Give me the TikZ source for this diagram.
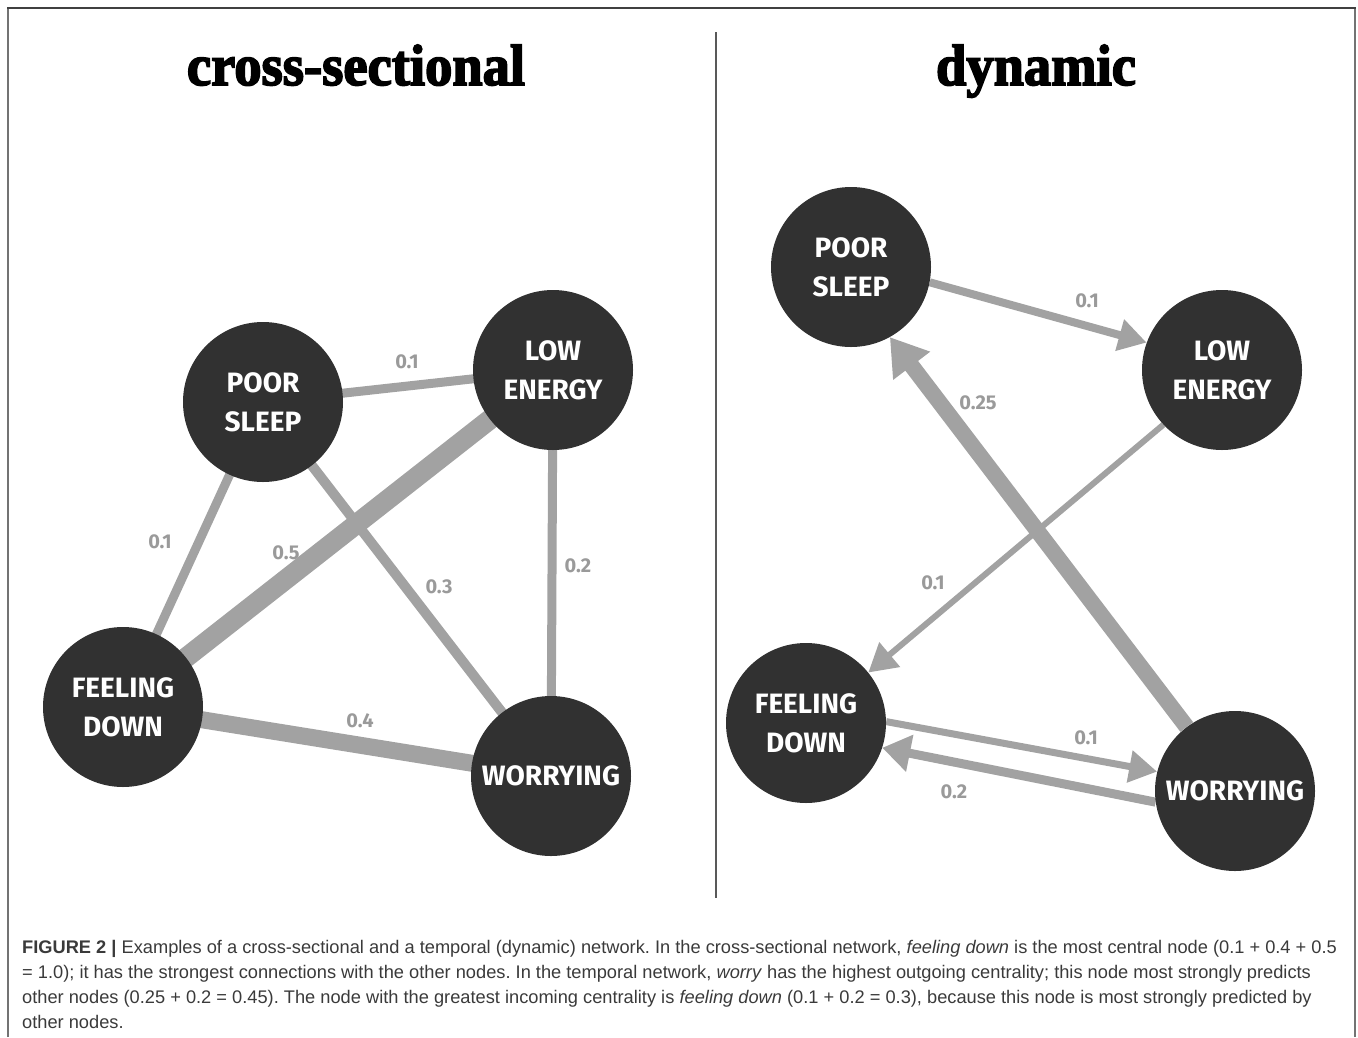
\documentclass[tikz,border=0pt]{standalone}
\usepackage{fontspec}
\usepackage{graphicx}
\setmainfont{Liberation Sans}
\newfontfamily\nodefont{Fira Sans}
\newfontfamily\titlefont[FakeBold=3]{Liberation Serif}
\usetikzlibrary{arrows.meta,backgrounds}
\definecolor{nodegray}{HTML}{313131}
\definecolor{edgegray}{HTML}{A2A2A2}
\definecolor{labelgray}{HTML}{9A9A9A}
\definecolor{captext}{HTML}{3A3A3A}
\tikzset{
  sym/.style={circle, fill=nodegray, minimum size=160pt, inner sep=0pt, text=white,
    font=\nodefont\bfseries\fontsize{28}{39}\selectfont, align=center},
  edge/.style={draw=edgegray, line cap=butt},
  wlab/.style={text=labelgray, font=\nodefont\bfseries\fontsize{20}{20}\selectfont, inner sep=0pt},
  arr/.style={-{Triangle[length=28pt,width=31pt]}},
  bigarr/.style={-{Triangle[length=36pt,width=44pt]}},
  titletext/.style={anchor=base, inner sep=0pt, font=\titlefont\bfseries\fontsize{58}{58}\selectfont},
  captionline/.style={anchor=base west, inner sep=0pt, text=captext, font=\fontsize{18.25}{22}\selectfont\frenchspacing},
}
\begin{document}
\begin{tikzpicture}[x=1pt, y=-1pt]
\useasboundingbox (0,0) rectangle (1358,1037);
% frame
\draw[line width=2pt, color=black!55] (8,1037) -- (8,8);
\draw[line width=2pt, color=black!55] (1355,8) -- (1355,1037);
\draw[line width=2.5pt, color=black!75] (7,8) -- (1356,8);
% divider
\draw[line width=2pt, color=black!65] (716,32) -- (716,898);
% titles
\node[titletext] (t1) at (356,85) {\scalebox{0.94}[1]{cross-sectional}};
\node[titletext] (t2) at (1036,85) {\scalebox{0.94}[1]{dynamic}};

% cross-sectional nodes
\node[sym] (ps) at (263,402) {POOR\\SLEEP};
\node[sym] (le) at (553,370) {LOW\\ENERGY};
\node[sym] (fd) at (123,707) {FEELING\\DOWN};
\node[sym] (w)  at (551,776) {WORRYING};

\begin{scope}[on background layer]
\draw[edge, line width=9pt] (ps.center) -- (le.center);
\draw[edge, line width=9pt] (ps.center) -- (fd.center);
\draw[edge, line width=10pt] (ps.center) -- (w.center);
\draw[edge, line width=20pt] (le.center) -- (fd.center);
\draw[edge, line width=9pt] (le.center) -- (w.center);
\draw[edge, line width=17pt] (fd.center) -- (w.center);
\end{scope}

\node[wlab] (l1) at (407,362) {0.1};
\node[wlab] (l2) at (160,542) {0.1};
\node[wlab] (l3) at (286,553) {0.5};
\node[wlab] (l4) at (439,587) {0.3};
\node[wlab] (l5) at (578,566) {0.2};
\node[wlab] (l6) at (360,721) {0.4};

% dynamic nodes
\node[sym] (dps) at (851,267) {POOR\\SLEEP};
\node[sym] (dle) at (1222,370) {LOW\\ENERGY};
\node[sym] (dfd) at (806,723) {FEELING\\DOWN};
\node[sym] (dw)  at (1235,791) {WORRYING};

\begin{scope}[on background layer]
\draw[edge, line width=8pt, arr] (dps.-11) -- (dle.160);
\draw[edge, line width=6pt, arr] (dle.223) -- (dfd.39);
\draw[edge, line width=16pt, bigarr] (dw.127) -- (dps.-61);
\draw[edge, line width=7pt, arr] (dfd.1) -- (dw.166);
\draw[edge, line width=9pt, -{Triangle[length=28pt,width=36pt]}] (dw.188) -- (dfd.-18);
\end{scope}

\node[wlab] (m1) at (1087,301) {0.1};
\node[wlab] (m2) at (978,403) {0.25};
\node[wlab] (m3) at (933,583) {0.1};
\node[wlab] (m4) at (1086,738) {0.1};
\node[wlab] (m5) at (954,792) {0.2};

% caption
\node[captionline] (c1) at (22,953) {\textbf{FIGURE 2 |} Examples of a cross-sectional and a temporal (dynamic) network. In the cross-sectional network, \textit{feeling down} is the most central node (0.1 + 0.4 + 0.5};
\node[captionline] (c2) at (22,978) {= 1.0); it has the strongest connections with the other nodes. In the temporal network, \textit{worry} has the highest outgoing centrality; this node most strongly predicts};
\node[captionline] (c3) at (22,1003) {other nodes (0.25 + 0.2 = 0.45). The node with the greatest incoming centrality is \textit{feeling down} (0.1 + 0.2 = 0.3), because this node is most strongly predicted by};
\node[captionline] (c4) at (22,1028) {other nodes.};
\end{tikzpicture}
\end{document}
